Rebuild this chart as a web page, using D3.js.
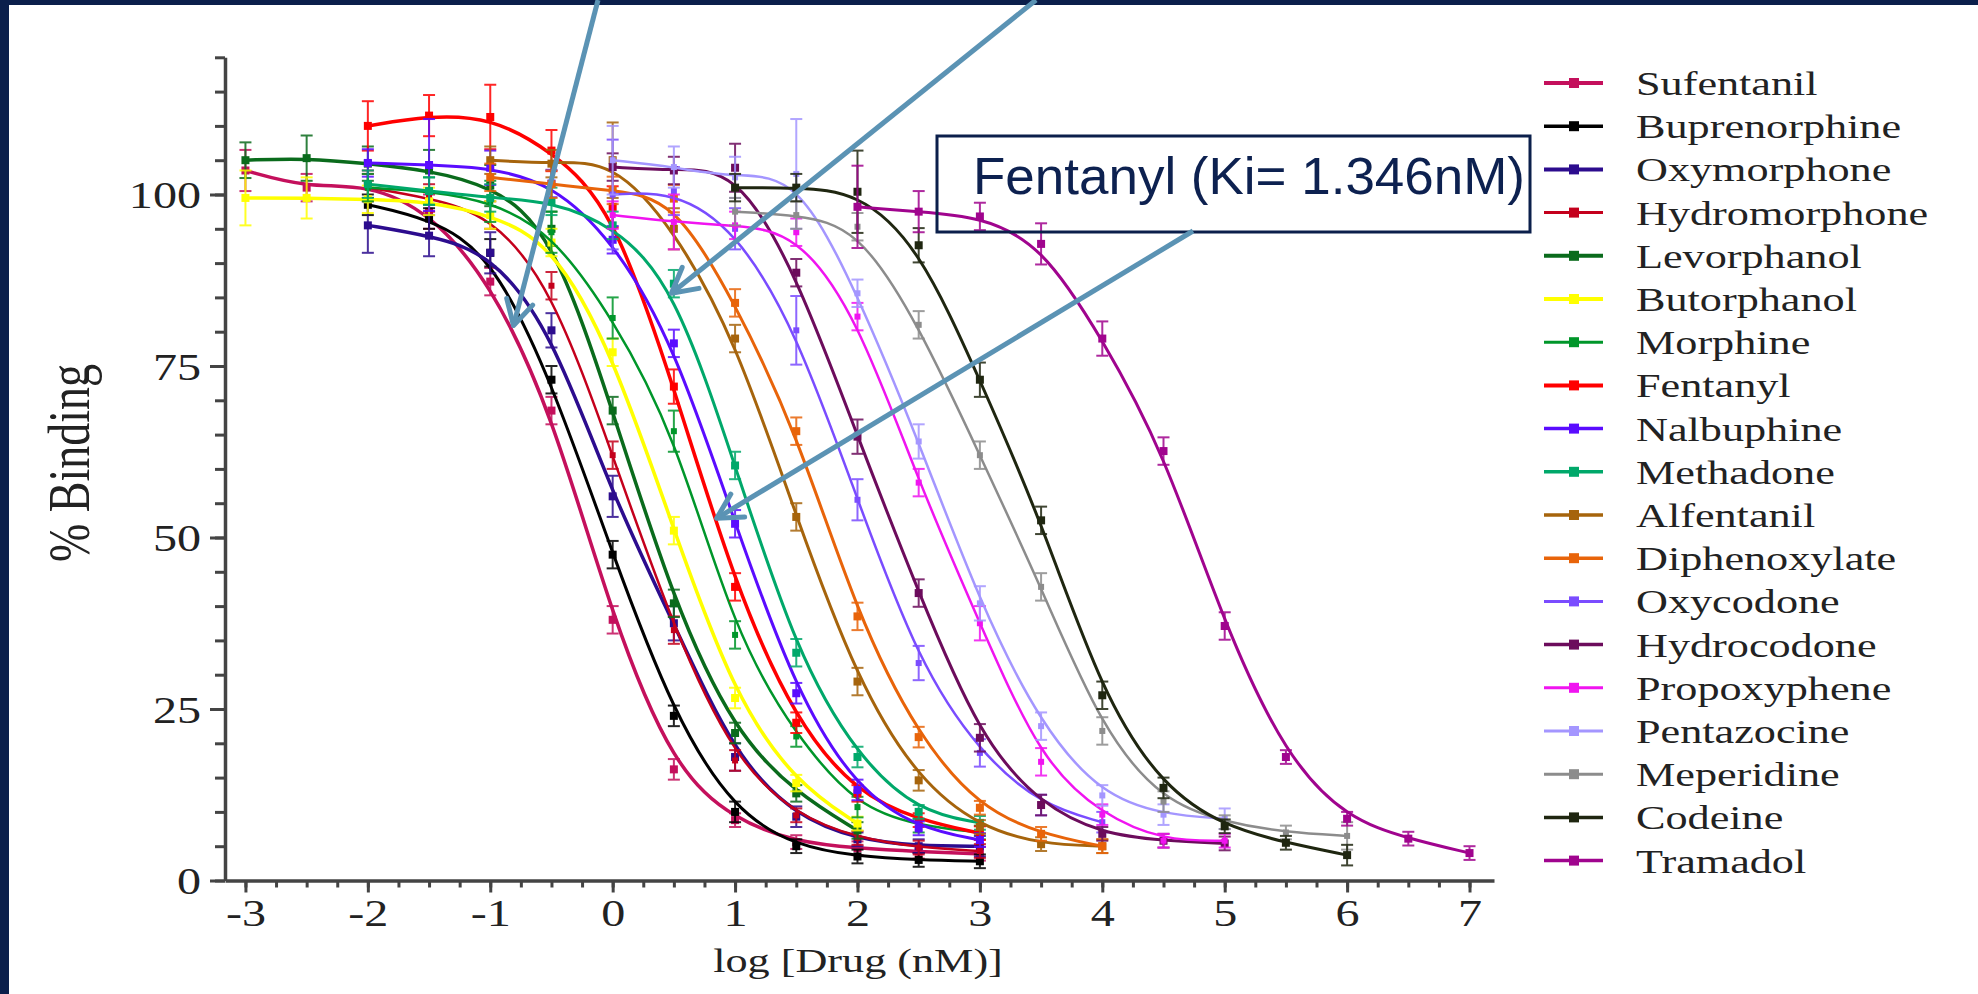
<!DOCTYPE html>
<html>
<head>
<meta charset="utf-8">
<script src="https://cdn.jsdelivr.net/npm/d3@7"></script>
<style>
  body { margin: 0; background: #fff; }
  svg { display: block; }
</style>
</head>
<body>
<svg id="chart" width="1978" height="994"></svg>
<script>
// drugs in legend order
const drugs = ["Sufentanil", "Buprenorphine", "Oxymorphone", "Hydromorphone", "Levorphanol",
  "Butorphanol", "Morphine", "Fentanyl", "Nalbuphine", "Methadone", "Alfentanil", "Diphenoxylate",
  "Oxycodone", "Hydrocodone", "Propoxyphene", "Pentazocine", "Meperidine", "Codeine", "Tramadol"];

const drugColors = ["#c4105c", "#000000", "#2c0c8e", "#c4001c", "#0a6b1c", "#ffff00", "#00962a",
  "#ff0000", "#5a0cff", "#00a86a", "#a6640c", "#e8640a", "#7a4cff", "#6c0c5c", "#f014f0",
  "#a496ff", "#8c8c8c", "#1f2610", "#a0048e"];

const lineWidths = [3.5, 3, 3.5, 2.5, 3.5, 3.5, 2.5, 3.5, 3, 3, 3, 3, 2.5, 3, 2.5, 2.5, 2.5, 3, 3];

// first log dose of each drug, points every half log unit after that
const firstDose = [-3, -2, -2, -2, -3, -3, -2, -2, -2, -2, -1, -1, 0, 0, 0, 0, 1, 1, 2];
const doseStep = 0.5;

// mean % binding
const binding = [
  [103.5, 101, 101.5, 97.5, 87.3, 68.5, 38, 16.2, 8.8, 5.6, 4.7, 4.2, 3.9],
  [98.5, 96.5, 91.5, 73, 47.5, 24, 10, 5, 3.5, 3, 2.8],
  [95.5, 94, 91.5, 80.2, 56, 37.5, 18, 9.3, 6, 5, 5],
  [101, 99.5, 97, 86.7, 62, 36.5, 17.5, 9.5, 6.2, 4.8, 4.3],
  [105, 105.3, 104.5, 103.5, 101.3, 95, 68.5, 40.4, 21.5, 12.7, 7.3],
  [99.5, 99.5, 99.3, 99, 97, 93, 77, 51, 26.6, 14.2, 8.3],
  [101, 100.5, 99, 94.5, 82, 65.5, 35.8, 21, 10.7, 8, 7],
  [110, 111.5, 111.3, 106.4, 98.2, 72, 42.8, 23, 12.7, 8.8, 6.9],
  [104.6, 104.3, 103.9, 101.6, 93.4, 78.3, 52, 27.3, 13.2, 7.6, 5.9],
  [101.5, 100.5, 99.5, 99, 95.5, 87, 60.5, 33.2, 18, 10, 8.4],
  [105, 104.5, 105, 95, 79, 53, 29, 14.6, 7.8, 5.3, 5],
  [102.5, 101.5, 100.6, 99.4, 84.2, 65.5, 38.5, 20.9, 10.6, 6.8, 5],
  [100, 100.5, 95, 80.2, 55.5, 31.7, 18.6, 11, 8.5],
  [104, 103.5, 103.9, 88.6, 64.7, 41.9, 20.8, 11, 6.8, 5.8, 5.4],
  [97, 96, 95.5, 94.5, 82.2, 58, 37.5, 17.3, 9.6, 5.8, 5.8],
  [105, 104, 102.5, 103, 85.6, 64, 40.4, 22.5, 12.4, 9.6, 9],
  [97.5, 97, 95.3, 81, 62, 42.8, 21.8, 11.5, 8.5, 7, 6.5],
  [101, 101, 100.4, 92.6, 73, 52.5, 27, 13.5, 7.9, 5.5, 3.7],
  [98.2, 97.5, 96.8, 92.8, 79, 62.6, 37.1, 18, 9, 6.1, 4]
];

// error bar half heights
const sem = [
  [3, 2, 2, 2.5, 2, 2, 2, 1.5, 1, 1, 1, 1, 1],
  [1.5, 1.5, 2, 2, 2, 1.5, 1.5, 1, 1, 1, 1],
  [4, 3, 3, 2.5, 3, 2.5, 2, 1.5, 1, 1, 1.5],
  [2, 2, 2, 2, 2, 2, 1.5, 1, 1, 1, 1],
  [2.6, 3.3, 2.5, 3, 3, 2.5, 2, 2, 1.5, 1.2, 1.2],
  [4, 3, 2, 2, 2, 2, 2, 2, 1.5, 1.2, 1],
  [2, 2, 3, 3, 3, 3, 2, 1.5, 1.5, 1, 1],
  [3.6, 3, 4.7, 3, 3, 2.5, 2, 1.5, 1.2, 1, 1],
  [2, 6.7, 2.5, 2, 2, 2, 2, 1.5, 1.5, 1, 1],
  [2, 2, 2, 2, 2, 2, 2, 2, 1.5, 1, 1],
  [2, 2, 5.5, 3, 2, 2, 2, 1.5, 1, 1, 1],
  [2, 2, 2, 2, 2, 2, 2, 1.5, 1, 1, 1],
  [8, 3.5, 3, 5, 3, 2.5, 2, 1.5, 1.5],
  [2, 2, 3.5, 2, 2.5, 2, 2, 1.5, 1, 1, 1],
  [2, 4, 2, 2, 2, 2, 2.5, 2, 1.5, 1, 1],
  [5, 3, 3, 8, 2, 2.5, 2.5, 2, 1.5, 1.5, 1.5],
  [2, 2, 2, 2, 2, 2, 2, 1.5, 1, 1, 2],
  [2, 2, 6, 2.5, 2.5, 2, 2, 1.5, 1, 1, 1.5],
  [6, 3, 2, 3, 2.5, 2, 2, 1, 1, 1, 1]
];

const xTickValues = d3.range(-3, 8);
const xMinorTicks = d3.range(-3, 7.01, 0.25);
const yTickValues = [0, 25, 50, 75, 100];
const yMinorTicks = d3.range(0, 121, 5);

const annotationText = "Fentanyl (Ki= 1.346nM)";
// arrows: start in page pixels, tip in data units (log dose, % binding)
const arrowNotes = [
  {from: [598, 0], tip: [-0.81, 80.9]},
  {from: [1036, 0], tip: [0.48, 85.6]},
  {from: [1193, 231], tip: [0.85, 52.8]}
];

init();

function init () {
  const svg = d3.select("#chart");
  const navy = "#0b1f4b";

  // slide frame
  svg.append("rect").attr("width", 1978).attr("height", 994).attr("fill", "#fff");
  svg.append("rect").attr("width", 1978).attr("height", 5).attr("fill", navy);
  svg.append("rect").attr("width", 9).attr("height", 994).attr("fill", navy);

  const x = d3.scaleLinear().domain([-3.167, 7.2]).range([225, 1494]);
  const y = d3.scaleLinear().domain([0, 120]).range([880.5, 57.3]);

  const serif = "'Liberation Serif', 'Times New Roman', serif";
  const axisColor = "#444";

  // minor ticks first
  svg.append("g")
    .attr("transform", "translate(0,880.5)")
    .call(d3.axisBottom(x).tickValues(xMinorTicks).tickSize(7).tickSizeOuter(0).tickFormat(""))
    .call(g => g.select(".domain").remove());
  svg.append("g")
    .attr("transform", "translate(225,0)")
    .call(d3.axisLeft(y).tickValues(yMinorTicks).tickSize(10).tickSizeOuter(0).tickFormat(""))
    .call(g => g.select(".domain").remove());

  // major ticks, labels and axis lines
  const xAxis = svg.append("g")
    .attr("transform", "translate(0,880.5)")
    .call(d3.axisBottom(x).tickValues(xTickValues).tickSize(12).tickSizeOuter(0)
      .tickFormat(d => String(d)));
  xAxis.selectAll("text")
    .attr("y", null).attr("dy", null)
    .attr("transform", "translate(0,45) scale(1.3,1)");

  const yAxis = svg.append("g")
    .attr("transform", "translate(225,0)")
    .call(d3.axisLeft(y).tickValues(yTickValues).tickSize(15).tickSizeOuter(0));
  yAxis.selectAll("text")
    .attr("x", null).attr("dy", null)
    .attr("transform", "translate(-24,13) scale(1.3,1)");

  svg.selectAll(".tick line").attr("stroke", axisColor).attr("stroke-width", 3);
  svg.selectAll(".domain").attr("stroke", axisColor).attr("stroke-width", 3.5);
  svg.selectAll(".tick text")
    .attr("fill", "#222")
    .style("font-family", serif)
    .style("font-size", "37px");

  // axis titles
  svg.append("text")
    .attr("transform", "translate(858,972) scale(1.3,1)")
    .attr("text-anchor", "middle")
    .style("font-family", serif).style("font-size", "34px").attr("fill", "#222")
    .text("log [Drug (nM)]");
  svg.append("text")
    .attr("transform", "translate(89,463) scale(1.3,1) rotate(-90)")
    .attr("text-anchor", "middle")
    .style("font-family", serif).style("font-size", "46px").attr("fill", "#222")
    .text("% Binding");

  // data
  const series = drugs.map((name, i) => ({
    name: name,
    color: drugColors[i],
    width: lineWidths[i],
    points: binding[i].map((v, j) => ({dose: firstDose[i] + j * doseStep, value: v, err: sem[i][j]}))
  }));

  const line = d3.line()
    .x(d => x(d.dose))
    .y(d => y(d.value))
    .curve(d3.curveBasis);

  const groups = svg.append("g").selectAll("g.series")
    .data(series)
    .enter().append("g").attr("class", "series");

  groups.append("path")
    .attr("d", d => line(d.points))
    .attr("fill", "none")
    .attr("stroke", d => d.color)
    .attr("stroke-width", d => d.width);

  // error bars and markers
  groups.each(function (s) {
    const g = d3.select(this);
    const bars = g.selectAll("g.bar").data(s.points).enter().append("g").attr("class", "bar")
      .attr("stroke", s.color).attr("stroke-width", 2).attr("opacity", 0.85);
    bars.append("line")
      .attr("x1", d => x(d.dose)).attr("x2", d => x(d.dose))
      .attr("y1", d => y(d.value + d.err)).attr("y2", d => y(d.value - d.err));
    bars.append("line")
      .attr("x1", d => x(d.dose) - 6).attr("x2", d => x(d.dose) + 6)
      .attr("y1", d => y(d.value + d.err)).attr("y2", d => y(d.value + d.err));
    bars.append("line")
      .attr("x1", d => x(d.dose) - 6).attr("x2", d => x(d.dose) + 6)
      .attr("y1", d => y(d.value - d.err)).attr("y2", d => y(d.value - d.err));
    const m = s.width >= 3 ? 8 : 6;
    g.selectAll("rect.marker").data(s.points).enter().append("rect").attr("class", "marker")
      .attr("x", d => x(d.dose) - m / 2).attr("y", d => y(d.value) - m / 2)
      .attr("width", m).attr("height", m)
      .attr("fill", s.color);
  });

  // legend
  const legend = svg.append("g").selectAll("g.legend")
    .data(series)
    .enter().append("g").attr("class", "legend")
    .attr("transform", (d, i) => `translate(0,${83 + i * 43.2})`);
  legend.append("line")
    .attr("x1", 1544).attr("x2", 1603)
    .attr("stroke", d => d.color).attr("stroke-width", d => d.width + 0.5);
  legend.append("rect")
    .attr("x", 1569).attr("y", -5).attr("width", 10).attr("height", 10)
    .attr("fill", d => d.color);
  legend.append("text")
    .attr("transform", "translate(1636,12) scale(1.3,1)")
    .style("font-family", serif).style("font-size", "34px").attr("fill", "#222")
    .text(d => d.name);

  // annotation box
  svg.append("rect")
    .attr("x", 937).attr("y", 136).attr("width", 593).attr("height", 96)
    .attr("fill", "none").attr("stroke", navy).attr("stroke-width", 3);
  svg.append("text")
    .attr("x", 973).attr("y", 194)
    .attr("textLength", 552).attr("lengthAdjust", "spacingAndGlyphs")
    .style("font-family", "'Liberation Sans', Arial, sans-serif").style("font-size", "52px")
    .attr("fill", "#0d2150")
    .text(annotationText);

  // arrows
  const arrowColor = "#5b93b4";
  arrowNotes.forEach(a => {
    const tx = x(a.tip[0]), ty = y(a.tip[1]);
    const ang = Math.atan2(a.from[1] - ty, a.from[0] - tx);
    const len = 28, spread = 0.5;
    svg.append("line")
      .attr("x1", a.from[0]).attr("y1", a.from[1]).attr("x2", tx).attr("y2", ty)
      .attr("stroke", arrowColor).attr("stroke-width", 5);
    svg.append("path")
      .attr("d", `M${tx + len * Math.cos(ang - spread)},${ty + len * Math.sin(ang - spread)}L${tx},${ty}L${tx + len * Math.cos(ang + spread)},${ty + len * Math.sin(ang + spread)}`)
      .attr("fill", "none").attr("stroke", arrowColor).attr("stroke-width", 5)
      .attr("stroke-linecap", "round").attr("stroke-linejoin", "round");
  });
}
</script>
</body>
</html>
